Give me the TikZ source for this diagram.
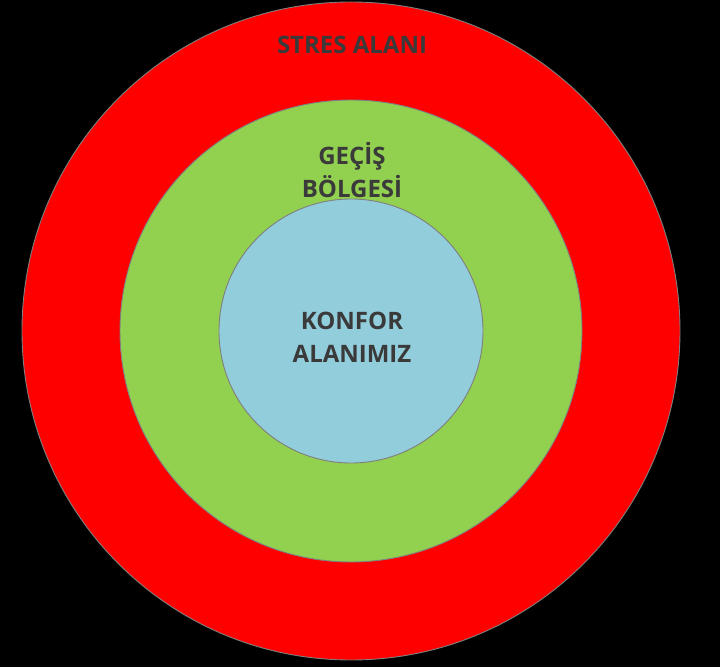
\documentclass[tikz,border=0pt]{standalone}
\usepackage{fontspec}
\setmainfont{Open Sans}
\definecolor{stresred}{HTML}{FF0000}
\definecolor{gecisgreen}{HTML}{92D050}
\definecolor{konforblue}{HTML}{92CDDC}
\definecolor{ringline}{HTML}{7F7F7F}
\definecolor{labelgray}{HTML}{3A3A3A}
\begin{document}
\begin{tikzpicture}[x=1pt,y=1pt,
  ring/.style={circle,draw=ringline,line width=0.9pt,inner sep=0pt},
  zonelabel/.style={font=\bfseries\fontsize{24}{33}\selectfont,text=labelgray,align=center,inner sep=0pt}]
  % black backdrop fixing the page size
  \fill[black] (0,0) rectangle (720,667);
  \useasboundingbox (0,0) rectangle (720,667);
  % nested zones
  \node[ring,fill=stresred,minimum size=658pt] (stres) at (351,336) {};
  \node[ring,fill=gecisgreen,minimum size=462pt] (gecis) at (351,336) {};
  \node[ring,fill=konforblue,minimum size=264pt] (konfor) at (351,336) {};
  % zone labels
  \node[zonelabel] (stresL) at (352,622) {STRES ALANI};
  \node[zonelabel] (gecisL) at (352,497) {GEÇİŞ\\BÖLGESİ};
  \node[zonelabel] (konforL) at (352,330) {KONFOR\\ALANIMIZ};
\end{tikzpicture}
\end{document}
